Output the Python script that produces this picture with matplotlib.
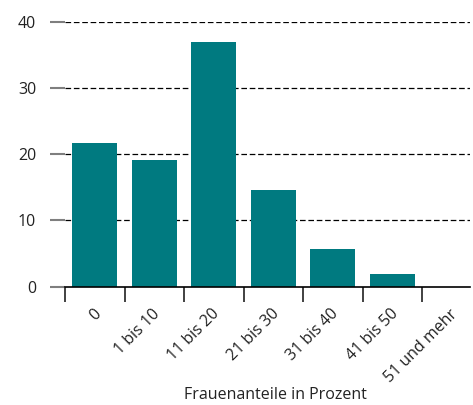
import matplotlib
matplotlib.use("Agg")
import matplotlib.pyplot as plt
import matplotlib.transforms as mtransforms
import numpy as np

categories = ["0", "1 bis 10", "11 bis 20", "21 bis 30", "31 bis 40", "41 bis 50", "51 und mehr"]
values = [21.7, 19.1, 36.9, 14.6, 5.7, 1.9, 0.0]
yticks = [0, 10, 20, 30, 40]
xlabel = "Frauenanteile in Prozent"

plt.rcParams['font.family'] = ['Open Sans', 'DejaVu Sans']

fig = plt.figure(figsize=(4.73, 4.05), dpi=100)
ax = fig.add_axes([65/473, 1-286.6/405, (470-65)/473, (286.6-21.5)/405])

x = np.arange(len(categories))
color = "#007A80"
ax.bar(x, values, width=0.756, color=color, zorder=3)

ax.set_xlim(-0.5, (470-65)/59.5 - 0.5)
ax.set_ylim(0, 40)

for s in ["top", "right", "left"]:
    ax.spines[s].set_visible(False)
ax.spines["bottom"].set_color("black")
ax.spines["bottom"].set_linewidth(1.2)
ax.spines["bottom"].set_zorder(4)

ax.set_yticks(yticks)
ax.set_yticklabels([str(t) for t in yticks], fontsize=11.5, color="#222222")
ax.tick_params(axis="y", length=10.8, width=1.5, color="#7f7f7f", pad=10)
for t in yticks[1:]:
    ax.axhline(t, color="black", lw=0.9, linestyle=(0, (4.5, 2.2)), zorder=1)

ax.set_xticks(x)
ax.set_xticklabels(categories, rotation=45, ha="right", va="top",
                   rotation_mode="anchor", fontsize=11.5, color="#222222")
ax.tick_params(axis="x", which="major", length=0, pad=14)
offset = mtransforms.ScaledTranslation(-2/100, 0, fig.dpi_scale_trans)
for lbl in ax.get_xticklabels():
    lbl.set_transform(lbl.get_transform() + offset)
ax.set_xticks(np.arange(len(categories)) - 0.5, minor=True)
ax.tick_params(axis="x", which="minor", length=10.8, width=1.3, color="#333333")

ax.set_xlabel(xlabel, fontsize=11.5, color="#222222")
ax.xaxis.set_label_coords((275-65)/(470-65), -(395-286.6)/(286.6-21.5), transform=ax.transAxes)
ax.xaxis.label.set_va("center")

fig.savefig("out.png", dpi=100)
